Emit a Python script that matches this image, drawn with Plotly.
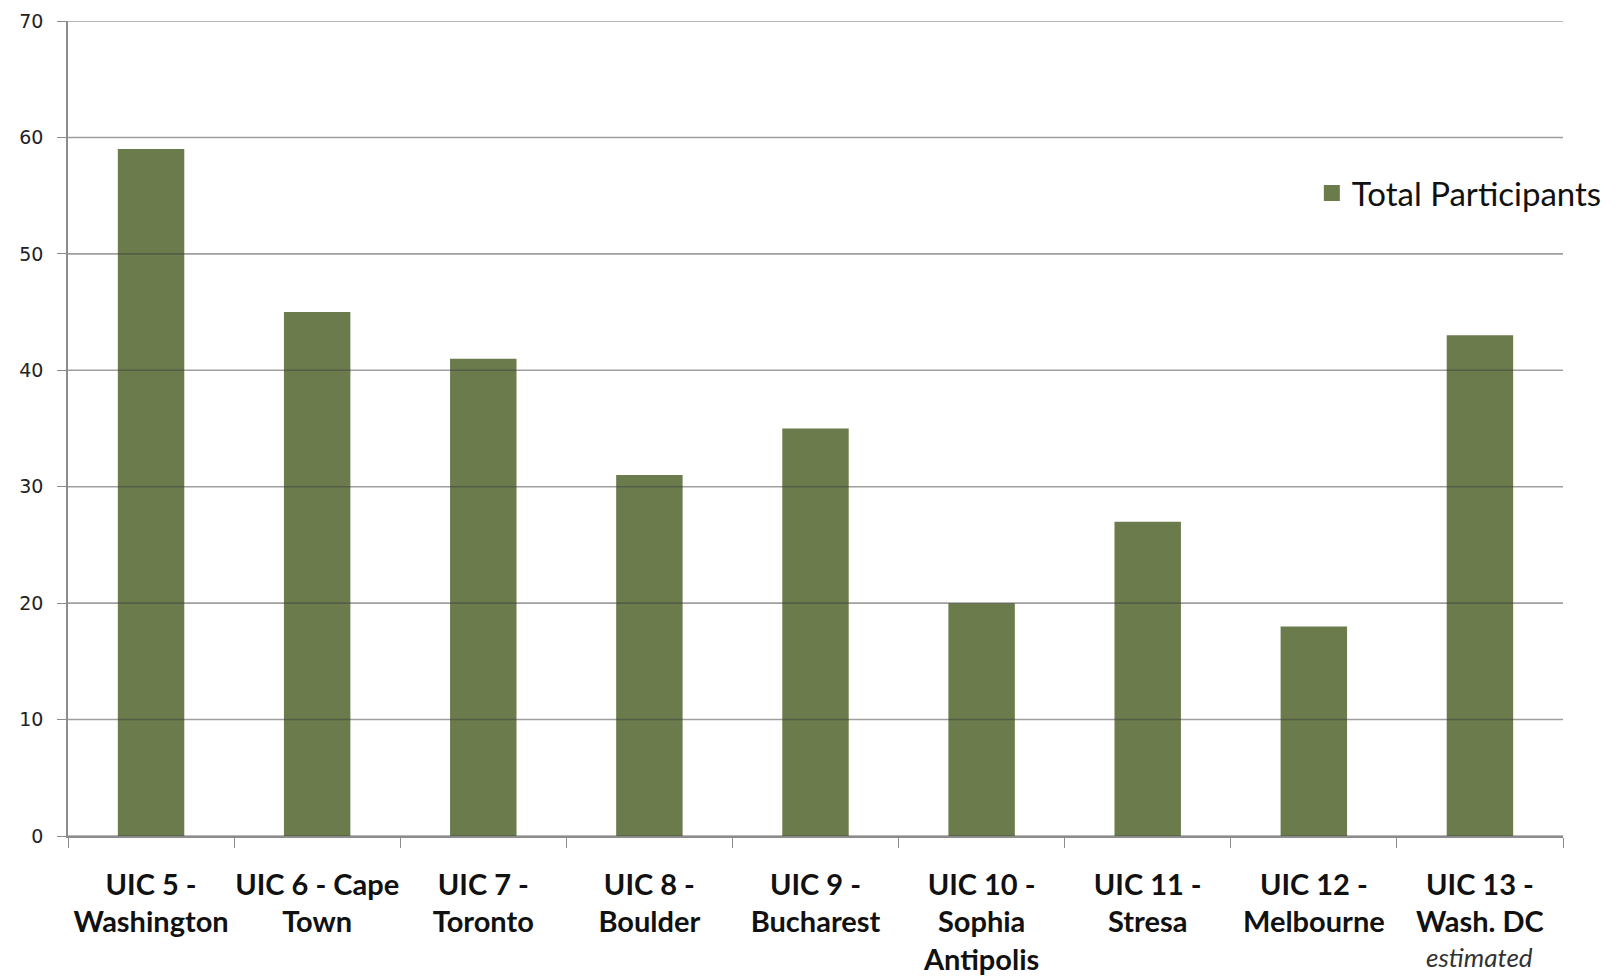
import plotly.graph_objects as go

categories = [
    "UIC 5 -<br>Washington",
    "UIC 6 - Cape<br>Town",
    "UIC 7 -<br>Toronto",
    "UIC 8 -<br>Boulder",
    "UIC 9 -<br>Bucharest",
    "UIC 10 -<br>Sophia<br>Antipolis",
    "UIC 11 -<br>Stresa",
    "UIC 12 -<br>Melbourne",
    "UIC 13 -<br>Wash. DC",
]
participants = [59, 45, 41, 31, 35, 20, 27, 18, 43]
y_ticks = [0, 10, 20, 30, 40, 50, 60, 70]
series_name = "Total Participants"
note_category = categories[-1]
note_text = "estimated"

BAR = "#6b7b4c"

fig = go.Figure()
fig.add_trace(go.Bar(
    x=categories, y=participants, name=series_name,
    marker=dict(color=BAR, line=dict(width=0)),
    showlegend=False,
))
# legend entry with a larger square swatch
fig.add_trace(go.Scatter(
    x=[None], y=[None], mode="markers", name=series_name,
    marker=dict(symbol="square", size=16, color=BAR),
    showlegend=True,
))

for v in y_ticks:
    fig.add_shape(type="line", xref="paper", yref="y", x0=0, x1=1, y0=v, y1=v,
                  line=dict(color="rgba(64,64,64,0.5)", width=1.6), layer="above")

fig.add_annotation(x=note_category, xref="x", y=-0.149, yref="paper",
                   text="<i>" + note_text + "</i>", showarrow=False,
                   font=dict(family="Lato", size=26, color="#333"),
                   yanchor="middle")

fig.update_layout(
    width=1619, height=976,
    margin=dict(l=68, r=53, t=21, b=140),
    paper_bgcolor="white", plot_bgcolor="white",
    bargap=0.6,
    legend=dict(x=0.832, y=0.789, xanchor="left", yanchor="middle",
                font=dict(family="Lato", size=33, color="#111"),
                bgcolor="rgba(0,0,0,0)", itemwidth=30),
)
fig.update_yaxes(
    range=[0, 70], tickvals=y_ticks, showgrid=False,
    showline=True, linecolor="#8c8c8c", linewidth=1.5,
    ticks="outside", ticklen=9, tickcolor="#8c8c8c", tickwidth=1.3,
    tickfont=dict(family="DejaVu Sans", size=19, color="#222"),
    zeroline=False, ticklabelstandoff=10, automargin=False,
)
fig.update_xaxes(
    showline=True, linecolor="#8c8c8c", linewidth=1.5,
    ticks="outside", ticklen=10, tickcolor="#8c8c8c", tickwidth=1.3,
    tickson="boundaries", tickangle=0, automargin=False,
    tickfont=dict(family="Lato", size=29, color="#111", weight="bold"),
    ticklabelstandoff=22,
)

fig.write_html("out.html", config={"displayModeBar": False},
               post_script="document.body.style.margin='0';")
